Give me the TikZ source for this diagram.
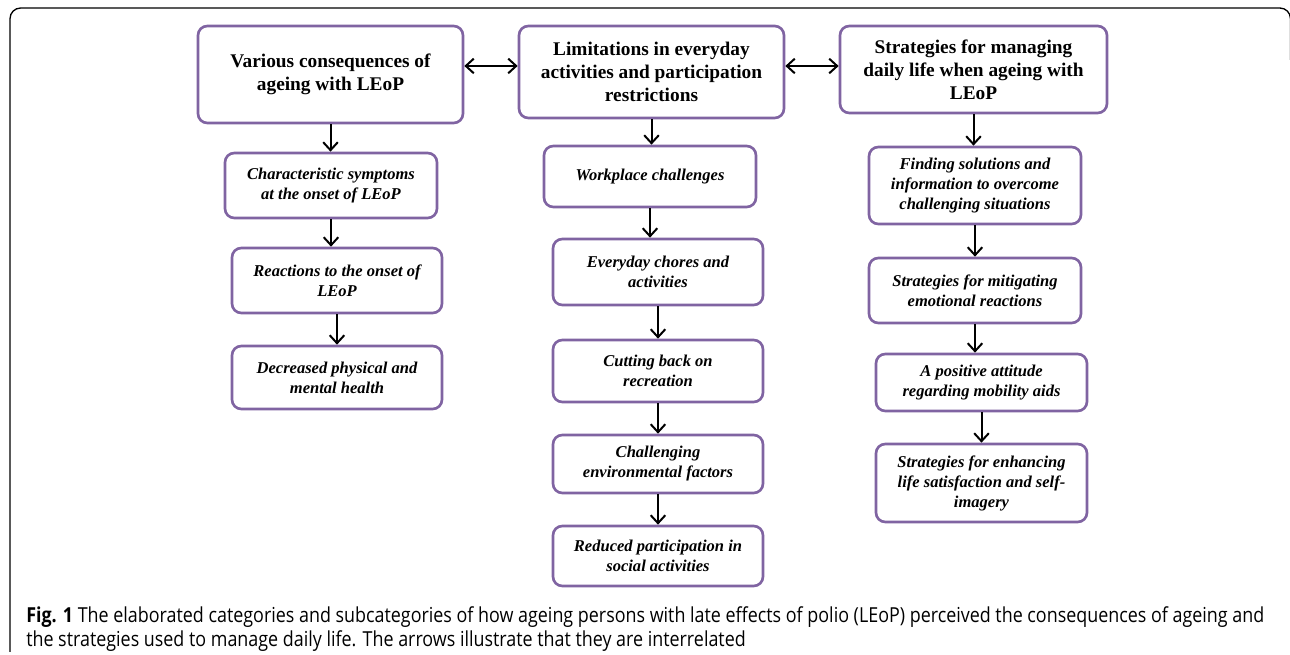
\documentclass[tikz,border=0pt]{standalone}
\usepackage{fontspec}
\setmainfont{Liberation Serif}
\newfontfamily\capfont[FakeStretch=0.866]{Open Sans}
\usetikzlibrary{arrows.meta}
\definecolor{boxpurple}{HTML}{8064A2}

\begin{document}
\begin{tikzpicture}[x = 0.75pt, y = -0.75pt,
		cat/.style = {draw = boxpurple, line width = 2pt, rounded corners = 7pt, fill = white, align = center, inner sep = 0pt, font = \fontsize{14.5}{17.3}\selectfont\bfseries},
		sub/.style = {cat, font = \fontsize{12.4}{15}\selectfont\bfseries\itshape},
		link/.style = {line width = 1.5pt, -{Straight Barb[length = 6pt, width = 11pt]}},
		both/.style = {link, {Straight Barb[length = 6pt, width = 11pt]}-{Straight Barb[length = 6pt, width = 11pt]}}]
	\useasboundingbox (0, 0) rectangle (1290, 655);
	\draw[line width = 1pt, rounded corners = 8pt] (10, 652) -- (10, 8) -- (1290.5, 8) -- (1290.5, 60);
	\node[cat, minimum width = 198.75pt, minimum height = 72.75pt] (h1) at (330.5, 74.5) {Various consequences of\\ageing with LEoP};
	\node[cat, minimum width = 198.75pt, minimum height = 69pt] (h2) at (651.5, 72) {Limitations in everyday\\activities and participation\\restrictions};
	\node[cat, minimum width = 200.25pt, minimum height = 65.25pt] (h3) at (973.5, 69.5) {Strategies for managing\\daily life when ageing with\\LEoP};
		\node[sub, minimum width = 159pt, minimum height = 48.75pt] (c1a) at (331, 185.5) {Characteristic symptoms\\at the onset of LEoP};
		\node[sub, minimum width = 157.5pt, minimum height = 48.75pt] (c1b) at (337, 280.5) {Reactions to the onset of\\LEoP};
		\node[sub, minimum width = 157.5pt, minimum height = 47.25pt] (c1c) at (337, 377.5) {Decreased physical and\\mental health};
		\node[sub, minimum width = 159pt, minimum height = 45.75pt] (c2a) at (650, 176.5) {Workplace challenges};
		\node[sub, minimum width = 157.5pt, minimum height = 49.5pt] (c2b) at (658, 272) {Everyday chores and\\activities};
		\node[sub, minimum width = 157.5pt, minimum height = 46.5pt] (c2c) at (658, 371) {Cutting back on\\recreation};
		\node[sub, minimum width = 157.5pt, minimum height = 43.5pt] (c2d) at (658, 464) {Challenging\\environmental factors};
		\node[sub, minimum width = 157.5pt, minimum height = 45pt] (c2e) at (658, 556) {Reduced participation in\\social activities};
		\node[sub, minimum width = 159pt, minimum height = 57.75pt] (c3a) at (975, 185.5) {Finding solutions and\\information to overcome\\challenging situations};
		\node[sub, minimum width = 159pt, minimum height = 48.75pt] (c3b) at (975, 290.5) {Strategies for mitigating\\emotional reactions};
		\node[sub, minimum width = 158.25pt, minimum height = 42.75pt] (c3c) at (981.5, 382.5) {A positive attitude\\regarding mobility aids};
		\node[sub, minimum width = 158.25pt, minimum height = 58.5pt] (c3d) at (981.5, 483) {Strategies for enhancing\\life satisfaction and self-\\imagery};
	\draw[both] ([yshift = 6.4pt]h1.east) -- ([yshift = 6.4pt]h1.east -| h2.west);
	\draw[both] ([yshift = 4.5pt]h2.east) -- ([yshift = 4.5pt]h2.east -| h3.west);
	\draw[link] (h1.south) -- (h1.south |- c1a.north);
	\draw[link] (c1a.south) -- (c1a.south |- c1b.north);
	\draw[link] (c1b.south) -- (c1b.south |- c1c.north);
	\draw[link] (h2.south) -- (h2.south |- c2a.north);
	\draw[link] (c2a.south) -- (c2a.south |- c2b.north);
	\draw[link] (c2b.south) -- (c2b.south |- c2c.north);
	\draw[link] (c2c.south) -- (c2c.south |- c2d.north);
	\draw[link] (c2d.south) -- (c2d.south |- c2e.north);
	\draw[link] (h3.south) -- (h3.south |- c3a.north);
	\draw[link] (c3a.south) -- (c3a.south |- c3b.north);
	\draw[link] (c3b.south) -- (c3b.south |- c3c.north);
	\draw[link] (c3c.south) -- (c3c.south |- c3d.north);
	\node[anchor = north west, align = left, inner sep = 0pt, font = \capfont\fontsize{15.5}{18}\selectfont] (cap) at (26, 606) {\textbf{Fig. 1} The elaborated categories and subcategories of how ageing persons with late effects of polio (LEoP) perceived the consequences of ageing and\\the strategies used to manage daily life. The arrows illustrate that they are interrelated};
\end{tikzpicture}
\end{document}
